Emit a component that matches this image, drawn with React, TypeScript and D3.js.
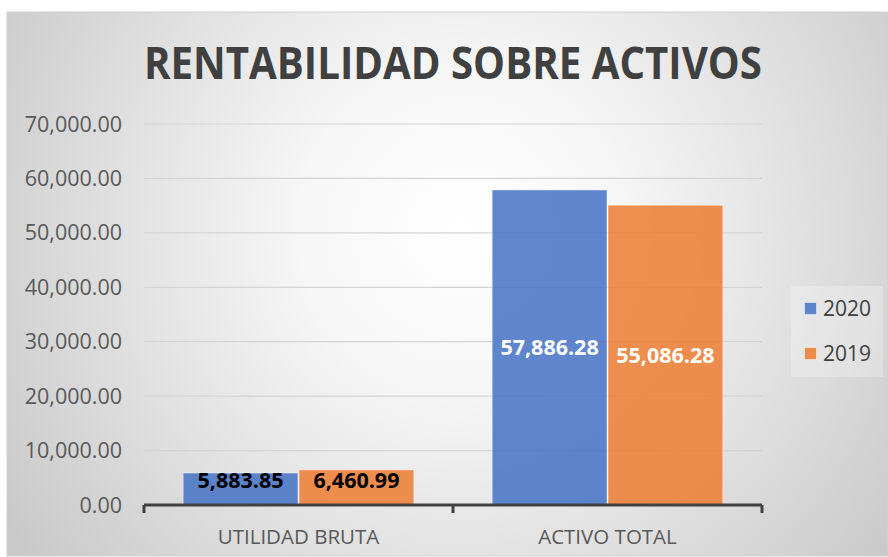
import { useEffect, useRef } from 'react'
import * as d3 from 'd3'

const categories = ['UTILIDAD BRUTA', 'ACTIVO TOTAL']
const seriesNames = ['2020', '2019']
const values2020 = [5883.85, 57886.28]
const values2019 = [6460.99, 55086.28]
const yTicks = [0, 10000, 20000, 30000, 40000, 50000, 60000, 70000]
const seriesColors = ['#4472C4', '#ED7D31']
const labelColors = ['#000000', '#FFFFFF']

function App() {
  const svgRef = useRef<SVGSVGElement>(null)

  useEffect(() => {
    if (!svgRef.current) return
    const svg = d3.select(svgRef.current)
    svg.selectAll('*').remove()

    const W = 888
    const H = 557
    const margin = { top: 124, right: 126, bottom: 52, left: 144 }
    const plotW = W - margin.left - margin.right
    const plotH = H - margin.top - margin.bottom

    const defs = svg.append('defs')
    const grad = defs
      .append('radialGradient')
      .attr('id', 'bg')
      .attr('gradientUnits', 'userSpaceOnUse')
      .attr('cx', 460)
      .attr('cy', 230)
      .attr('r', 540)
    grad.append('stop').attr('offset', '0%').attr('stop-color', '#ffffff')
    grad.append('stop').attr('offset', '30%').attr('stop-color', '#f6f6f6')
    grad.append('stop').attr('offset', '100%').attr('stop-color', '#c9c9c9')

    svg
      .append('rect')
      .attr('x', 7)
      .attr('y', 12)
      .attr('width', W - 7)
      .attr('height', H - 13)
      .attr('fill', 'url(#bg)')
      .attr('stroke', '#d0d0d0')
      .attr('stroke-width', 1)

    svg
      .append('text')
      .attr('x', margin.left)
      .attr('y', 79)
      .attr('textLength', 618)
      .attr('lengthAdjust', 'spacingAndGlyphs')
      .attr('font-family', '"Open Sans", sans-serif')
      .attr('font-weight', 700)
      .attr('font-size', 44)
      .attr('fill', '#404040')
      .text('RENTABILIDAD SOBRE ACTIVOS')

    const g = svg.append('g').attr('transform', `translate(${margin.left},${margin.top})`)

    const x0 = d3.scaleBand().domain(categories).range([0, plotW]).paddingInner(0.25).paddingOuter(0.125)
    const x1 = d3.scaleBand().domain(seriesNames).range([0, x0.bandwidth()])
    const y = d3.scaleLinear().domain([0, 70000]).range([plotH, 0])

    // gridlines + tick labels
    yTicks.forEach((t) => {
      if (t > 0) {
        g.append('line')
          .attr('x1', 0)
          .attr('x2', plotW)
          .attr('y1', y(t))
          .attr('y2', y(t))
          .attr('stroke', '#d4d4d4')
          .attr('stroke-width', 1.2)
      }
      g.append('text')
        .attr('x', -22)
        .attr('y', y(t))
        .attr('dy', '0.35em')
        .attr('text-anchor', 'end')
        .attr('font-family', '"Open Sans", sans-serif')
        .attr('font-size', 21.5)
        .attr('fill', '#595959')
        .text(d3.format(',.2f')(t))
    })

    const data = categories.map((c, i) => ({
      category: c,
      vals: [values2020[i], values2019[i]],
    }))

    data.forEach((d, ci) => {
      d.vals.forEach((v, si) => {
        const bx = (x0(d.category) ?? 0) + (x1(seriesNames[si]) ?? 0)
        g.append('rect')
          .attr('x', bx + 0.5)
          .attr('y', y(v))
          .attr('width', x1.bandwidth() - 1)
          .attr('height', plotH - y(v))
          .attr('fill', seriesColors[si])
          .attr('fill-opacity', 0.85)
          .attr('stroke', '#ffffff')
          .attr('stroke-opacity', 0.5)
          .attr('stroke-width', 1)
        const center = Math.min((y(v) + plotH) / 2, plotH - 25)
        g.append('text')
          .attr('x', bx + x1.bandwidth() / 2)
          .attr('y', center)
          .attr('dy', '0.35em')
          .attr('text-anchor', 'middle')
          .attr('font-family', '"Open Sans", sans-serif')
          .attr('font-weight', 700)
          .attr('font-size', 21.5)
          .attr('fill', labelColors[ci])
          .text(d3.format(',.2f')(v))
      })
    })

    // x axis
    const axisColor = '#404040'
    g.append('line')
      .attr('x1', 0)
      .attr('x2', plotW)
      .attr('y1', plotH)
      .attr('y2', plotH)
      .attr('stroke', axisColor)
      .attr('stroke-width', 3)
    const tickXs = [0, plotW / 2, plotW]
    tickXs.forEach((tx) => {
      g.append('line')
        .attr('x1', tx)
        .attr('x2', tx)
        .attr('y1', plotH)
        .attr('y2', plotH + 8)
        .attr('stroke', axisColor)
        .attr('stroke-width', 3)
    })
    categories.forEach((c) => {
      g.append('text')
        .attr('x', (x0(c) ?? 0) + x0.bandwidth() / 2)
        .attr('y', plotH + 39)
        .attr('text-anchor', 'middle')
        .attr('font-family', '"Open Sans", sans-serif')
        .attr('font-size', 20.5)
        .attr('fill', '#595959')
        .text(c)
    })

    // legend
    const legend = svg.append('g').attr('transform', 'translate(791,286)')
    legend
      .append('rect')
      .attr('width', 92)
      .attr('height', 91)
      .attr('fill', '#ffffff')
      .attr('fill-opacity', 0.25)
    seriesNames.forEach((s, i) => {
      const ly = 16 + i * 45
      legend
        .append('rect')
        .attr('x', 13.5)
        .attr('y', ly + 0.5)
        .attr('width', 12)
        .attr('height', 12)
        .attr('fill', seriesColors[i])
        .attr('fill-opacity', 0.85)
        .attr('stroke', '#ffffff')
        .attr('stroke-opacity', 0.5)
      legend
        .append('text')
        .attr('x', 32)
        .attr('y', ly + 7)
        .attr('dy', '0.35em')
        .attr('font-family', '"Open Sans", sans-serif')
        .attr('font-size', 21)
        .attr('fill', '#404040')
        .text(s)
    })
  }, [])

  return (
    <div style={{ position: 'absolute', left: 0, top: 0 }}>
      <svg ref={svgRef} width={888} height={557} style={{ display: 'block' }}></svg>
    </div>
  )
}

export default App
